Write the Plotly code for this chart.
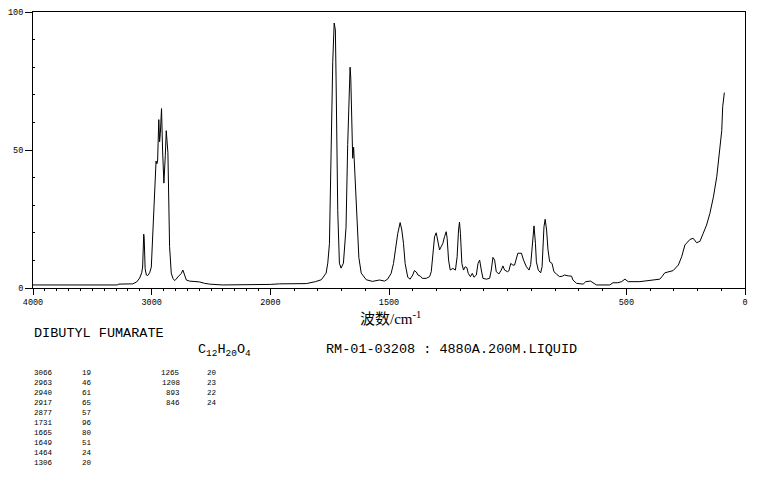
import numpy as np
import plotly.graph_objects as go

# ---------------- data ----------------
spectrum_wn = [4000, 3286, 3282, 3160, 3126, 3101, 3084, 3076, 3067, 3063, 3055, 3045, 3034, 3017, 3003,
               2989, 2975, 2963, 2956, 2950, 2940, 2933, 2927, 2917, 2908, 2897, 2885, 2877, 2863, 2849,
               2835, 2821, 2807, 2798, 2779, 2750, 2737, 2723, 2708, 2681, 2639, 2597, 2555, 2513, 2403,
               2260, 2092, 2000,
               1962, 1848, 1810, 1793, 1785, 1765, 1758, 1751, 1744, 1737, 1731, 1726, 1723, 1716, 1709,
               1702, 1692, 1681, 1674, 1667, 1664, 1661, 1658, 1653, 1649, 1643, 1636, 1627, 1617, 1596,
               1570, 1540, 1519, 1506, 1491, 1481, 1473, 1463, 1453, 1446, 1439, 1432, 1421, 1411, 1400,
               1393, 1385, 1378, 1368, 1360, 1343, 1329, 1322, 1315, 1308, 1301, 1294, 1287, 1280, 1273,
               1266, 1259, 1255, 1249, 1242, 1231, 1220, 1213, 1207, 1203, 1199, 1193, 1186, 1179, 1172,
               1166, 1157, 1149, 1142, 1132, 1125, 1118, 1111, 1104, 1090, 1076, 1069, 1062, 1055, 1048,
               1037, 1027, 1020, 1013, 1001, 995, 987, 978, 971, 963, 957, 942, 933, 921, 910,
               903, 897, 891, 889, 883, 879, 871, 861, 855, 851, 847, 842, 836, 830, 823,
               813, 805, 795, 781, 769, 760, 745, 731, 725, 710, 682, 671, 651, 640, 626,
               570, 556, 536, 520, 506, 492, 443, 422, 380, 359, 350, 338, 303, 281, 267,
               253, 232, 218, 204, 190, 176, 162, 148, 133, 119, 108, 98, 94, 90, 87]

spectrum_int = [1.1, 1.1, 1.4, 1.5, 2.2, 3.6, 5.5, 7.6, 19.5, 18, 7, 4.7, 4.5, 5.5, 7.6,
                20, 37, 46, 45, 46, 61, 53, 56, 65, 50, 38, 48, 57, 49, 15,
                5.4, 3.5, 2.7, 3, 4, 5.3, 6.5, 4.6, 2.9, 2.5, 2.3, 2.2, 1.7, 1.4, 1.1,
                1.1, 1.2, 1.3,
                1.5, 1.6, 2.3, 2.6, 3, 5.4, 9, 16, 52, 82, 96, 93.5, 76, 28, 9,
                7.2, 9, 22, 52, 76, 80, 76, 65.6, 47, 51, 40, 22, 11, 5.4, 3,
                2.4, 2.9, 2.5, 3.2, 5.3, 8.9, 13.8, 19.8, 23.7, 21, 16.2, 8.9, 3.9, 3.2, 4.7,
                6.3, 5.8, 4.7, 4.3, 3.5, 3.5, 4.1, 5.9, 11.3, 18.6, 20, 17.4, 13.8, 15, 16.2,
                18.6, 20.4, 18, 10.1, 6.5, 7.1, 6.5, 11.3, 21, 23.9, 19.8, 8.9, 6.5, 7.7, 7.4,
                5.3, 4.1, 5.3, 3.9, 4.7, 8.9, 10.1, 6.5, 3.5, 3.2, 3.5, 6.5, 11.1, 10.1, 5.9,
                5.1, 6.5, 8, 6.5, 5.9, 6.2, 8.9, 8.3, 8.3, 10.4, 12.6, 12.6, 10.1, 7.7, 6.5,
                8.5, 13.8, 21, 22.5, 16.2, 9.5, 6.5, 5.5, 7.7, 13.8, 22.2, 24.9, 21, 13.8, 9.5,
                8.9, 5.9, 5.1, 4.1, 4.3, 4.7, 4.4, 4.3, 2.9, 1.7, 1.4, 2.3, 2.5, 1.9, 1.1,
                1.1, 1.9, 1.9, 2.3, 3.2, 2.3, 2.3, 2.5, 2.8, 3.2, 4.1, 5.5, 6.3, 8.3, 11.3,
                15.6, 17.6, 18, 16.4, 16.9, 19.8, 22.8, 27, 33, 40.3, 48.8, 57, 65.7, 68.7, 70.8]

x_tick_labels = [4000, 3000, 2000, 1500, 500, 0]
y_tick_labels = [0, 50, 100]

peak_wn = [3066, 2963, 2940, 2917, 2877, 1731, 1665, 1649, 1464, 1306, 1265, 1208, 893, 846]
peak_int = [19, 46, 61, 65, 57, 96, 80, 51, 24, 20, 20, 23, 22, 24]

compound_name = "DIBUTYL FUMARATE"
formula = "C<sub>12</sub>H<sub>20</sub>O<sub>4</sub>"
sample_info = "RM-01-03208 : 4880A.200M.LIQUID"
x_title = "波数/cm<sup>-1</sup>"


# axis with 2x expansion below 2000 cm-1
def to_axis(wn):
    wn = np.asarray(wn, dtype=float)
    return np.where(wn >= 2000, 4000 - wn, 6000 - 2 * wn)


W, H = 761, 477
L, R, T, B = 33, 16, 12, 189
pw, ph = W - L - R, H - T - B


def px(xp):
    return (xp - L) / pw


def py(yp):
    return (H - B - yp) / ph


fig = go.Figure()
fig.add_trace(go.Scatter(x=to_axis(spectrum_wn), y=spectrum_int, mode="lines",
                         line=dict(color="black", width=1), hoverinfo="skip", showlegend=False))

minor_x = [v for v in range(0, 4001, 100) if v not in x_tick_labels]
tick_font = dict(family="Liberation Mono, DejaVu Sans Mono, monospace", size=8.5, color="black")

fig.update_xaxes(range=[0, 6000], showline=True, linecolor="black", linewidth=1, mirror=True,
                 showgrid=False, zeroline=False, ticks="outside", ticklen=6, tickwidth=1, tickcolor="black",
                 tickmode="array", tickvals=to_axis(x_tick_labels), ticktext=[str(v) for v in x_tick_labels],
                 tickfont=tick_font, automargin=False,
                 minor=dict(tickmode="array", tickvals=to_axis(minor_x), ticks="outside", ticklen=2,
                            tickwidth=1, tickcolor="black", showgrid=False))
fig.update_yaxes(range=[0, 100], showline=True, linecolor="black", linewidth=1, mirror=True,
                 showgrid=False, zeroline=False, ticks="outside", ticklen=7, tickwidth=1, tickcolor="black",
                 tickmode="array", tickvals=y_tick_labels, ticktext=[str(v) for v in y_tick_labels],
                 tickfont=tick_font, automargin=False,
                 minor=dict(tickmode="array", tickvals=[v for v in range(10, 100, 10) if v != 50],
                            ticks="inside", ticklen=2, tickwidth=1, tickcolor="black", showgrid=False))

big_font = dict(family="Liberation Mono, DejaVu Sans Mono, monospace", size=13.5, color="black")
small_font = dict(family="Liberation Mono, DejaVu Sans Mono, monospace", size=7.5, color="black")

ann = []
ann.append(dict(text=x_title, x=px(391), y=py(318), xref="paper", yref="paper", showarrow=False,
                xanchor="center", yanchor="middle",
                font=dict(family="Liberation Serif, Noto Sans CJK SC, serif", size=15, color="black")))
ann.append(dict(text=compound_name, x=px(32), y=py(333), xref="paper", yref="paper", showarrow=False,
                xanchor="left", yanchor="middle", font=big_font))
ann.append(dict(text=formula, x=px(196), y=py(350), xref="paper", yref="paper", showarrow=False,
                xanchor="left", yanchor="middle", font=big_font))
ann.append(dict(text=sample_info, x=px(324), y=py(349), xref="paper", yref="paper", showarrow=False,
                xanchor="left", yanchor="middle", font=big_font))

for i, (w, v) in enumerate(zip(peak_wn, peak_int)):
    col = i // 10
    row = i % 10
    yy = py(373 + 10 * row)
    if col == 0:
        ann.append(dict(text=str(w), x=px(32), y=yy, xref="paper", yref="paper", showarrow=False,
                        xanchor="left", yanchor="middle", font=small_font))
        ann.append(dict(text=str(v), x=px(80), y=yy, xref="paper", yref="paper", showarrow=False,
                        xanchor="left", yanchor="middle", font=small_font))
    else:
        ann.append(dict(text=str(w), x=px(182), y=yy, xref="paper", yref="paper", showarrow=False,
                        xanchor="right", yanchor="middle", font=small_font))
        ann.append(dict(text=str(v), x=px(205), y=yy, xref="paper", yref="paper", showarrow=False,
                        xanchor="left", yanchor="middle", font=small_font))

fig.update_layout(width=W, height=H, margin=dict(l=L, r=R, t=T, b=B, pad=0),
                  paper_bgcolor="white", plot_bgcolor="white", annotations=ann, showlegend=False)

fig.write_html("out.html", config={"displayModeBar": False},
               post_script="document.body.style.margin='0';document.body.style.padding='0';")
